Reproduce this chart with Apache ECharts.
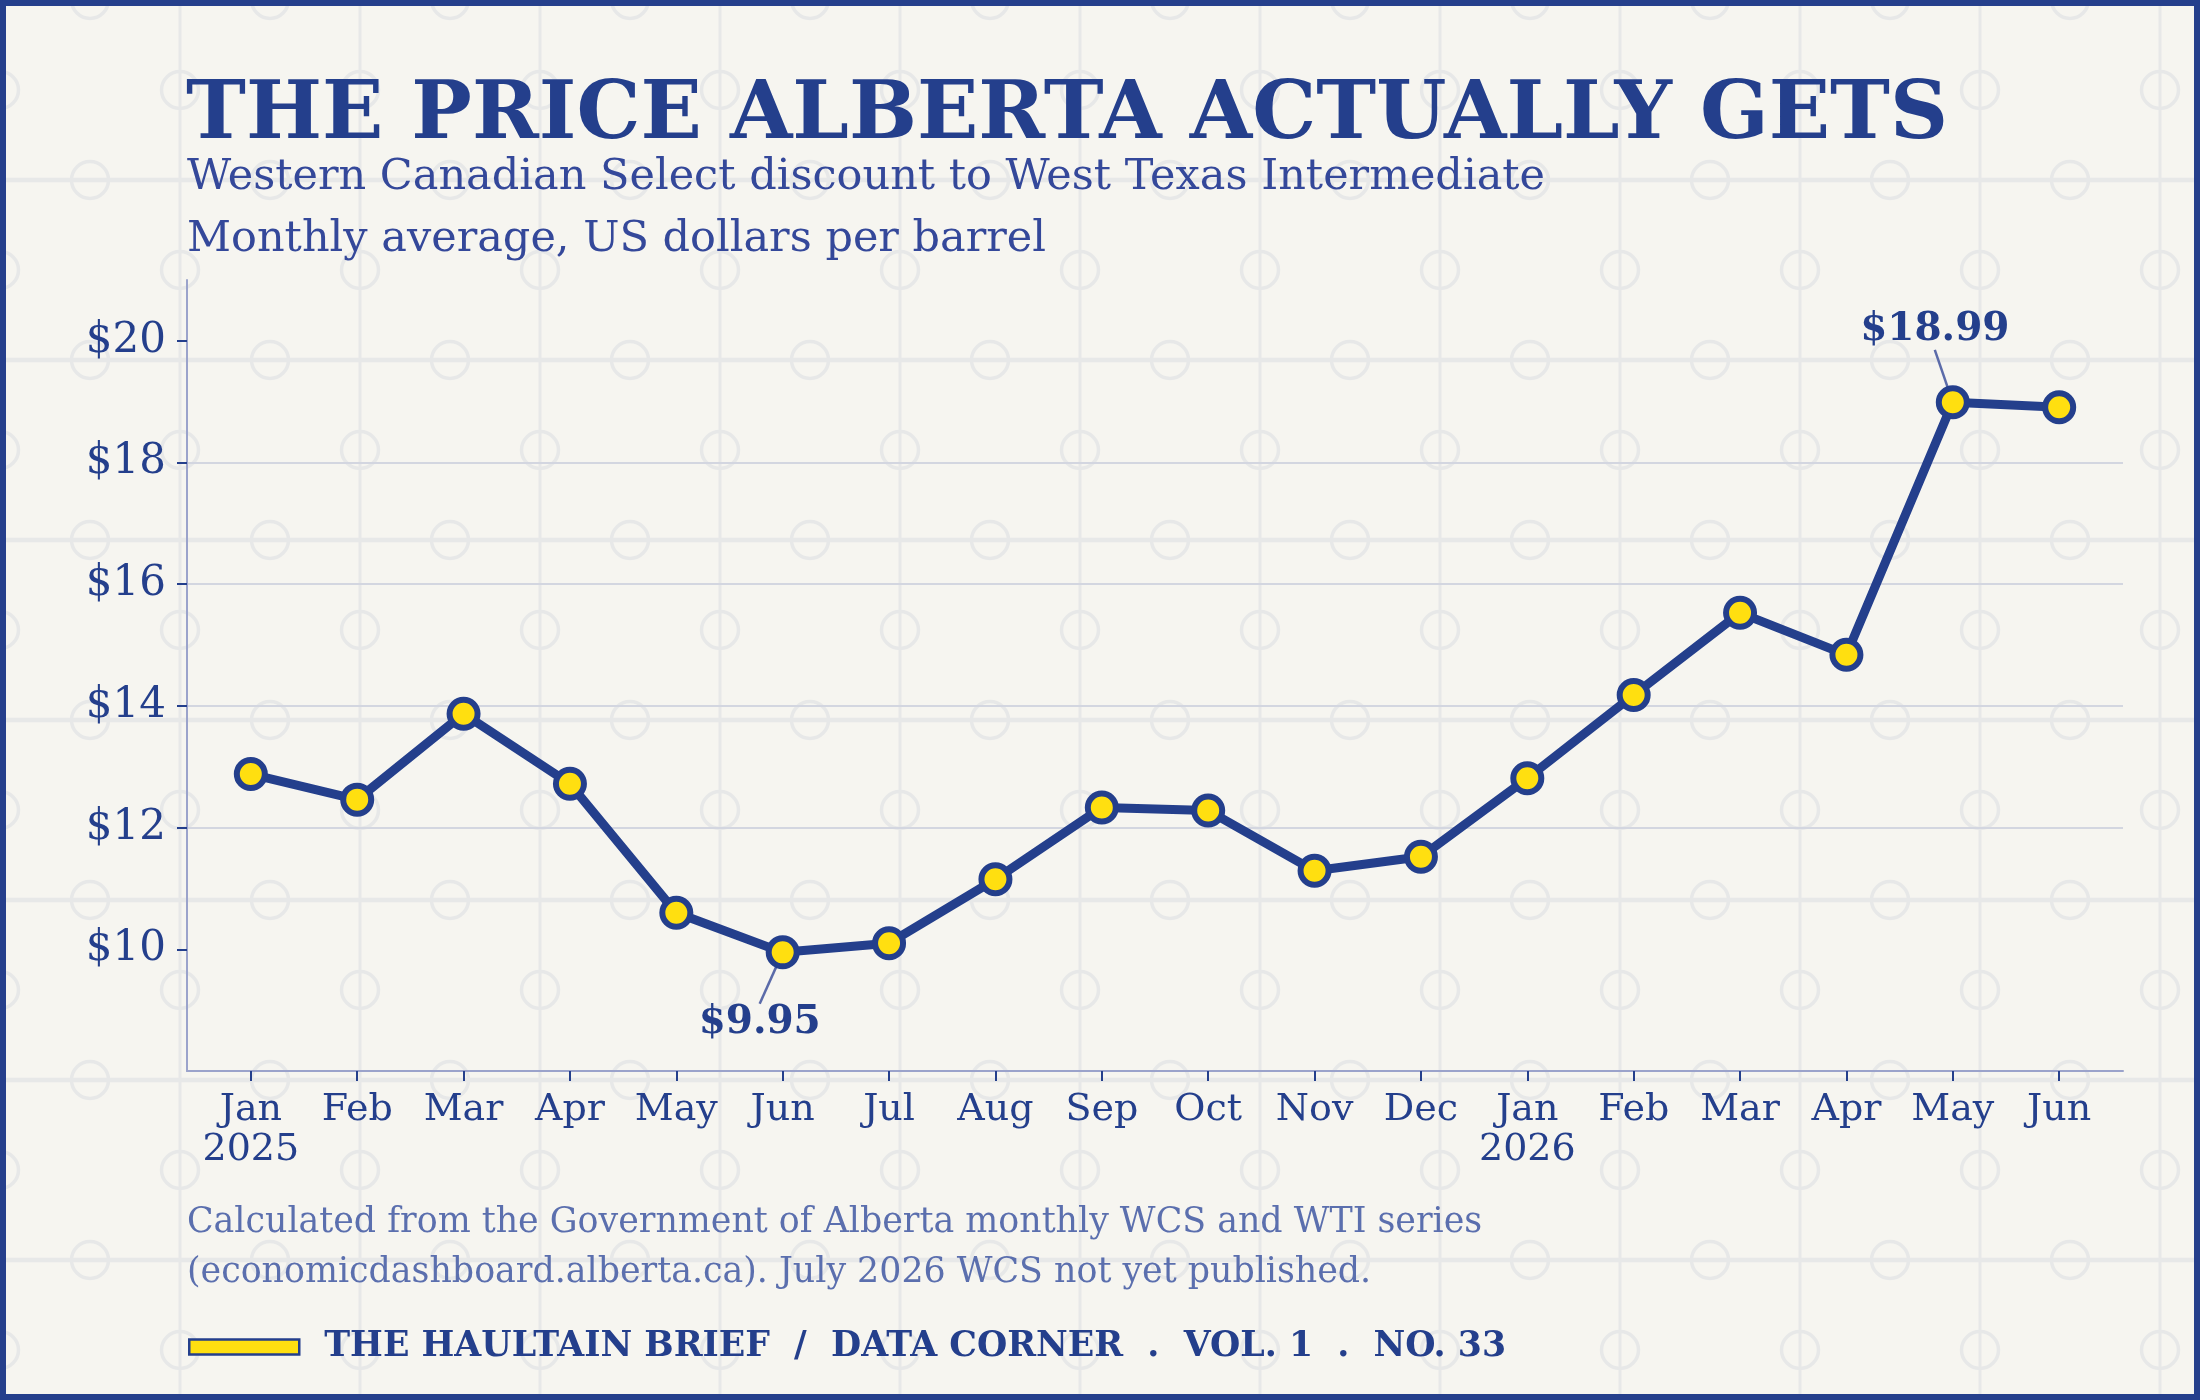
<!DOCTYPE html>
<html>
<head>
<meta charset="utf-8">
<script src="https://cdn.jsdelivr.net/npm/echarts@6/dist/echarts.min.js"></script>
<style>
  html, body { margin: 0; padding: 0; background: #f6f5f0; }
  #chart { width: 2200px; height: 1400px; }
</style>
</head>
<body>
<div id="chart"></div>
<script>
// ---- data ----
const months = ['Jan','Feb','Mar','Apr','May','Jun','Jul','Aug','Sep','Oct','Nov','Dec',
                'Jan','Feb','Mar','Apr','May','Jun'];
const years = { 0: '2025', 12: '2026' };
const discount = [12.88, 12.46, 13.87, 12.72, 10.60, 9.95, 10.10, 11.15, 12.33, 12.28,
                  11.29, 11.52, 12.81, 14.18, 15.53, 14.84, 18.99, 18.91];
const yTicks = [10, 12, 14, 16, 18, 20];
const annotated = [5, 16];
const seriesName = 'THE HAULTAIN BRIEF  /  DATA CORNER  .  VOL. 1  .  NO. 33';

// ---- styles ----
const NAVY = '#243f8c';
const YELLOW = '#ffdf10';
const FONT = 'DejaVu Serif';

// background tile pattern
function makeTile() {
  const c = document.createElement('canvas');
  c.width = 180; c.height = 180;
  const g = c.getContext('2d');
  g.fillStyle = '#e7e8e8';
  g.fillRect(-1.5, 0, 3, 180); g.fillRect(178.5, 0, 3, 180);
  g.fillRect(0, -2.25, 180, 4.5); g.fillRect(0, 177.75, 180, 4.5);
  g.strokeStyle = '#e7e8e8';
  g.lineWidth = 3.5;
  [[90, 0], [90, 180], [0, 90], [180, 90]].forEach(([x, y]) => {
    g.beginPath(); g.arc(x, y, 18.5, 0, Math.PI * 2); g.stroke();
  });
  return c;
}

const xIdx = months.map((m, i) => i);
const data = discount.map((v, i) => {
  const item = { value: [i, v] };
  if (annotated.indexOf(i) >= 0) {
    item.label = {
      show: true, position: 'inside',
      formatter: p => '$' + p.value[1].toFixed(2),
      fontFamily: FONT, fontWeight: 'bold', fontSize: 39, color: NAVY
    };
    item.labelLine = { show: true, lineStyle: { color: '#5b6ba9', width: 2.5 } };
  }
  return item;
});

const chart = echarts.init(document.getElementById('chart'), null, { renderer: 'canvas' });
chart.setOption({
  animation: false,
  backgroundColor: '#f6f5f0',
  graphic: [
    { type: 'rect', z: -100, silent: true, shape: { x: 0, y: 0, width: 2200, height: 1400 },
      style: { fill: { image: makeTile(), repeat: 'repeat' } } },
    { type: 'rect', z: 100, silent: true, shape: { x: 3, y: 3, width: 2194, height: 1394 },
      style: { fill: 'none', stroke: '#253f8c', lineWidth: 6 } }
  ],
  title: [
    { text: 'THE PRICE ALBERTA ACTUALLY GETS', left: 186, top: 77, padding: 0,
      textStyle: { fontFamily: FONT, fontWeight: 'bold', fontSize: 80.5, lineHeight: 80, color: NAVY } },
    { text: 'Western Canadian Select discount to West Texas Intermediate\nMonthly average, US dollars per barrel',
      left: 187, top: 147, padding: 0,
      textStyle: { fontFamily: FONT, fontWeight: 'normal', fontSize: 43, lineHeight: 62, color: '#34489a' } },
    { text: 'Calculated from the Government of Alberta monthly WCS and WTI series\n(economicdashboard.alberta.ca). July 2026 WCS not yet published.',
      left: 187, top: 1198, padding: 0,
      textStyle: { fontFamily: FONT, fontWeight: 'normal', fontSize: 34.8, lineHeight: 50, color: '#5b6fae' } }
  ],
  legend: {
    left: 188, top: 1329, padding: 0, selectedMode: false,
    itemWidth: 110, itemHeight: 15,
    data: [{ name: seriesName, icon: 'rect' }],
    itemStyle: { color: YELLOW, borderColor: NAVY, borderWidth: 2.5 },
    textStyle: { fontFamily: FONT, fontWeight: 'bold', fontSize: 34.75, lineHeight: 36, color: NAVY,
                 padding: [0, 0, 0, 20] }
  },
  grid: { left: 187, right: 77, top: 280, bottom: 329, containLabel: false },
  xAxis: {
    type: 'value', min: -0.6, max: 17.6,
    splitLine: { show: false },
    axisLine: { show: true, onZero: false, lineStyle: { color: '#9ba3cb', width: 2 } },
    axisTick: { show: true, customValues: xIdx, length: 10, lineStyle: { color: NAVY, width: 2 } },
    axisLabel: {
      customValues: xIdx, margin: 19,
      formatter: v => months[v] + (years[v] ? '\n' + years[v] : ''),
      fontFamily: FONT, fontSize: 38, lineHeight: 40, color: NAVY
    }
  },
  yAxis: {
    type: 'value', min: 8, max: 21,
    axisLine: { show: true, onZero: false, lineStyle: { color: '#9ba3cb', width: 2 } },
    axisTick: { show: true, customValues: yTicks, length: 10, lineStyle: { color: NAVY, width: 2 } },
    splitLine: { show: true, showMinLine: false, showMaxLine: false, lineStyle: { color: '#d3d6e0', width: 2 } },
    axisLabel: {
      customValues: yTicks, margin: 21,
      formatter: v => '$' + v,
      fontFamily: FONT, fontSize: 42, color: NAVY
    }
  },
  series: [{
    name: seriesName, type: 'line', data: data,
    symbol: 'circle', symbolSize: 28, showSymbol: true,
    lineStyle: { color: NAVY, width: 9 },
    itemStyle: { color: YELLOW, borderColor: NAVY, borderWidth: 6 },
    emphasis: { disabled: true },
    labelLayout: p => {
      if (p.dataIndex === 5) return { dx: -23, dy: 71 };
      if (p.dataIndex === 16) return { dx: -18, dy: -72 };
      return {};
    }
  }]
});
</script>
</body>
</html>
